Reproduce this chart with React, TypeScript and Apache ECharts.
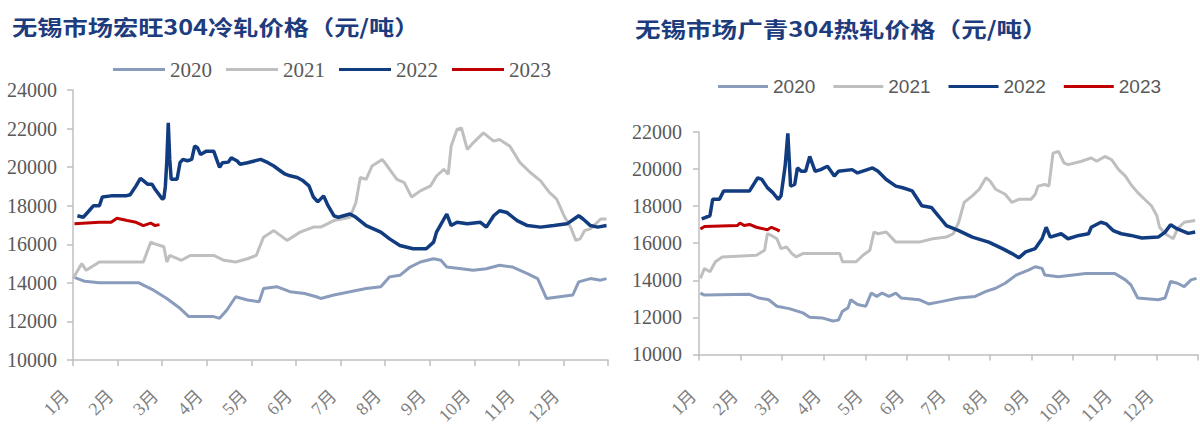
import React, { useEffect, useRef } from "react";
import * as echarts from "echarts";

const monthLabels = ["1月", "2月", "3月", "4月", "5月", "6月", "7月", "8月", "9月", "10月", "11月", "12月", ""];
const seriesNames = ["2020", "2021", "2022", "2023"];
const leftTitle = "无锡市场宏旺304冷轧价格（元/吨）";
const rightTitle = "无锡市场广青304热轧价格（元/吨）";

// [day of year, price]
const cold2020: [number, number][] = [[0,14310],[8,14080],[18,14000],[45,14000],[48,13880],[55,13620],[64,13190],[73,12680],[79,12250],[96,12250],[100,12160],[105,12590],[111,13280],[119,13110],[127,13020],[130,13710],[139,13800],[148,13540],[158,13450],[166,13280],[169,13190],[178,13370],[189,13540],[200,13710],[210,13800],[216,14310],[223,14390],[230,14820],[237,15080],[246,15250],[251,15170],[255,14820],[265,14730],[273,14650],[282,14730],[291,14910],[300,14820],[310,14480],[317,14220],[321,13540],[323,13190],[332,13280],[341,13370],[345,14050],[353,14220],[360,14140],[364,14220]];
const cold2021: [number, number][] = [[0,14220],[6,15000],[9,14650],[18,15080],[48,15080],[53,16110],[56,16020],[62,15870],[64,15080],[66,15420],[74,15170],[80,15420],[96,15420],[103,15170],[111,15080],[119,15250],[125,15420],[130,16370],[137,16710],[146,16200],[155,16630],[164,16890],[169,16890],[178,17230],[189,17400],[193,18170],[196,19460],[200,19370],[204,20060],[211,20400],[216,19890],[221,19370],[226,19200],[231,18450],[237,18770],[244,19030],[248,19540],[253,19890],[256,19630],[258,21090],[262,21950],[265,22030],[269,20920],[273,21260],[280,21780],[287,21350],[291,21430],[298,21090],[305,20230],[312,19720],[319,19290],[325,18690],[330,18340],[335,17480],[340,16800],[343,16200],[346,16280],[349,16710],[353,16800],[360,17310],[364,17310]];
const cold2022: [number, number][] = [[3,17480],[7,17400],[11,17740],[14,18000],[18,18000],[20,18450],[26,18510],[36,18510],[39,18570],[43,19030],[46,19420],[48,19300],[51,19110],[54,19110],[56,18850],[61,18340],[62,18400],[63,19000],[64,20300],[65,22300],[66,20400],[67,19370],[71,19370],[73,20230],[75,20400],[78,20330],[81,20400],[83,21090],[85,21000],[87,20660],[91,20830],[96,20830],[98,20400],[100,19990],[102,20230],[106,20260],[108,20490],[112,20320],[114,20150],[119,20230],[128,20400],[133,20230],[137,20060],[140,19890],[144,19670],[148,19550],[153,19460],[157,19290],[161,19030],[164,18450],[167,18200],[171,18510],[174,18000],[178,17480],[181,17400],[189,17570],[193,17400],[200,16970],[210,16630],[216,16280],[223,15940],[232,15770],[241,15770],[246,16110],[248,16630],[255,17570],[258,16970],[262,17140],[269,17060],[278,17140],[282,16890],[287,17480],[291,17740],[296,17650],[303,17230],[310,16970],[319,16890],[328,16970],[337,17060],[345,17480],[348,17310],[353,16970],[358,16890],[364,16970]];
const cold2023: [number, number][] = [[1,17060],[18,17140],[26,17140],[30,17350],[37,17230],[43,17140],[48,16970],[53,17100],[56,16970],[59,17020]];

const hot2020: [number, number][] = [[1,13310],[4,13200],[37,13240],[44,13040],[51,12950],[57,12600],[66,12470],[76,12240],[81,12010],[90,11970],[98,11800],[102,11850],[105,12330],[109,12510],[111,12950],[116,12690],[122,12600],[126,13310],[130,13130],[134,13310],[139,13130],[144,13310],[148,13040],[161,12950],[168,12720],[178,12860],[190,13040],[202,13130],[210,13400],[217,13570],[224,13840],[232,14280],[241,14550],[246,14730],[251,14640],[253,14280],[263,14190],[283,14370],[304,14370],[312,14020],[316,13750],[321,13040],[336,12950],[341,13040],[345,13930],[350,13840],[355,13660],[360,14020],[364,14100]];
const hot2021: [number, number][] = [[1,14100],[4,14640],[8,14460],[12,15000],[17,15260],[42,15350],[48,15620],[50,16510],[53,16420],[57,16240],[60,15710],[64,15800],[68,15440],[71,15260],[76,15440],[103,15440],[105,15000],[115,15000],[120,15350],[125,15620],[128,16600],[131,16510],[137,16600],[144,16060],[161,16060],[171,16240],[181,16330],[186,16510],[190,17130],[194,18200],[200,18550],[205,18910],[210,19530],[213,19350],[217,18910],[224,18640],[229,18200],[234,18370],[243,18370],[246,18640],[248,19080],[253,19170],[256,19080],[259,20860],[263,20950],[267,20330],[270,20240],[280,20420],[287,20600],[291,20420],[297,20680],[302,20500],[307,19970],[312,19620],[316,19170],[321,18730],[326,18370],[331,18020],[335,17480],[337,16860],[341,16510],[347,16240],[350,16770],[355,17130],[363,17220]];
const hot2022: [number, number][] = [[2,17310],[5,17400],[8,17480],[10,18370],[15,18370],[18,18820],[37,18820],[43,19530],[46,19440],[50,19000],[54,18730],[58,18370],[60,18550],[63,20150],[65,21930],[66,20510],[67,19080],[70,19170],[72,20060],[75,19880],[78,19880],[81,20680],[85,19880],[89,19970],[94,20150],[99,19620],[102,19880],[112,19970],[116,19790],[127,20060],[131,19880],[137,19440],[144,19080],[149,18990],[156,18820],[163,18020],[170,17930],[176,17400],[181,16950],[190,16680],[200,16330],[212,16060],[222,15710],[229,15440],[234,15210],[239,15530],[246,15710],[251,16240],[254,16860],[257,16330],[265,16510],[270,16240],[278,16420],[285,16510],[287,16860],[294,17130],[298,17040],[303,16680],[309,16510],[316,16420],[324,16280],[336,16330],[341,16600],[345,16990],[350,16770],[358,16530],[363,16600]];
const hot2023: [number, number][] = [[1,16770],[4,16900],[28,16950],[30,17090],[33,16950],[37,17010],[42,16860],[50,16730],[53,16860],[57,16730],[59,16650]];

const colors = ["#8A9CBC", "#BFBFBF", "#123C80", "#C00000"];
const widths = [3, 3, 3.5, 3];

const axisGray = "#BFBFBF";
const labelGray = "#595959";
const serif = '"Liberation Serif", "Noto Sans CJK SC", serif';
const titleFont = 'bold 21px "Noto Sans CJK SC"';

function measure(text: string, font: string): number {
  const c = document.createElement("canvas").getContext("2d");
  if (!c) return 360;
  c.font = font;
  const w = c.measureText(text).width;
  return w > 100 ? w : 360;
}

function monthAxis(gridIndex: number, margin: number, pad: number) {
  return {
    gridIndex,
    type: "category",
    data: monthLabels,
    boundaryGap: false,
    axisLine: { show: true, lineStyle: { color: axisGray, width: 1.5 } },
    axisTick: { show: true, length: 6, lineStyle: { color: axisGray, width: 1.5 } },
    axisLabel: {
      rotate: 45,
      margin,
      interval: 0,
      padding: [0, pad, 0, 0],
      fontFamily: serif,
      fontSize: 18,
      color: "#808080",
    },
    splitLine: { show: false },
  };
}

function dayAxis(gridIndex: number) {
  return { gridIndex, type: "value", min: 0, max: 365, show: false, splitLine: { show: false } };
}

function priceAxis(gridIndex: number, max: number, margin: number) {
  return {
    gridIndex,
    type: "value",
    min: 10000,
    max,
    interval: 2000,
    axisLine: { show: true, lineStyle: { color: axisGray, width: 1.5 } },
    axisTick: { show: true, length: 6, lineStyle: { color: axisGray, width: 1.5 } },
    axisLabel: {
      margin,
      fontFamily: serif,
      fontSize: 20,
      color: labelGray,
      formatter: (v: number) => String(v),
    },
    splitLine: { show: false },
  };
}

function lineSeries(name: string, idx: number, data: [number, number][], xAxisIndex: number, yAxisIndex: number) {
  return {
    name,
    type: "line",
    xAxisIndex,
    yAxisIndex,
    data,
    showSymbol: false,
    symbol: "none",
    lineStyle: { color: colors[idx], width: widths[idx] },
    itemStyle: { color: colors[idx] },
    z: 2 + idx,
  };
}

function titleText(text: string, x: number, y: number, targetWidth: number) {
  const w = measure(text, titleFont);
  const sx = targetWidth / w;
  return {
    type: "group",
    x,
    y,
    scaleX: sx,
    scaleY: 1,
    children: [
      {
        type: "text",
        x: 0,
        y: 0,
        style: {
          text,
          x: 0,
          y: 0,
          fontSize: 21,
          fontWeight: "bold",
          fontFamily: '"Noto Sans CJK SC"',
          fill: "#1D3C7E",
          verticalAlign: "middle",
        },
      },
    ],
  };
}

export default function App() {
  const ref = useRef<HTMLDivElement>(null);
  useEffect(() => {
    if (!ref.current) return;
    const chart = echarts.init(ref.current, undefined, { renderer: "svg" });
    const coldSets = [cold2020, cold2021, cold2022, cold2023];
    const hotSets = [hot2020, hot2021, hot2022, hot2023];
    const option: any = {
      animation: false,
      backgroundColor: "#ffffff",
      graphic: [titleText(leftTitle, 12, 26, 408), titleText(rightTitle, 635, 28, 413)],
      legend: [
        {
          data: seriesNames,
          left: 113,
          top: 59,
          padding: 0,
          icon: "rect",
          itemWidth: 52,
          itemHeight: 3,
          itemGap: 14,
          textStyle: { fontFamily: serif, fontSize: 21, color: labelGray },
        },
        {
          data: seriesNames,
          left: 718,
          top: 77,
          padding: 0,
          icon: "rect",
          itemWidth: 50,
          itemHeight: 3,
          itemGap: 18,
          textStyle: { fontFamily: '"Liberation Sans", sans-serif', fontSize: 19, color: labelGray },
        },
      ],
      grid: [
        { left: 73, top: 90, width: 535, height: 272, containLabel: false },
        { left: 699, top: 132, width: 500, height: 225, containLabel: false },
      ],
      xAxis: [monthAxis(0, 26, 10), dayAxis(0), monthAxis(1, 33, 8), dayAxis(1)],
      yAxis: [priceAxis(0, 24000, 16), priceAxis(1, 22000, 17)],
      series: [
        ...coldSets.map((d, i) => lineSeries(seriesNames[i], i, d, 1, 0)),
        ...hotSets.map((d, i) => lineSeries(seriesNames[i], i, d, 3, 1)),
      ],
    };
    chart.setOption(option);
    return () => chart.dispose();
  }, []);
  return (
    <div
      ref={ref}
      style={{ position: "absolute", left: 0, top: 0, width: 1200, height: 427, background: "#fff" }}
    />
  );
}
